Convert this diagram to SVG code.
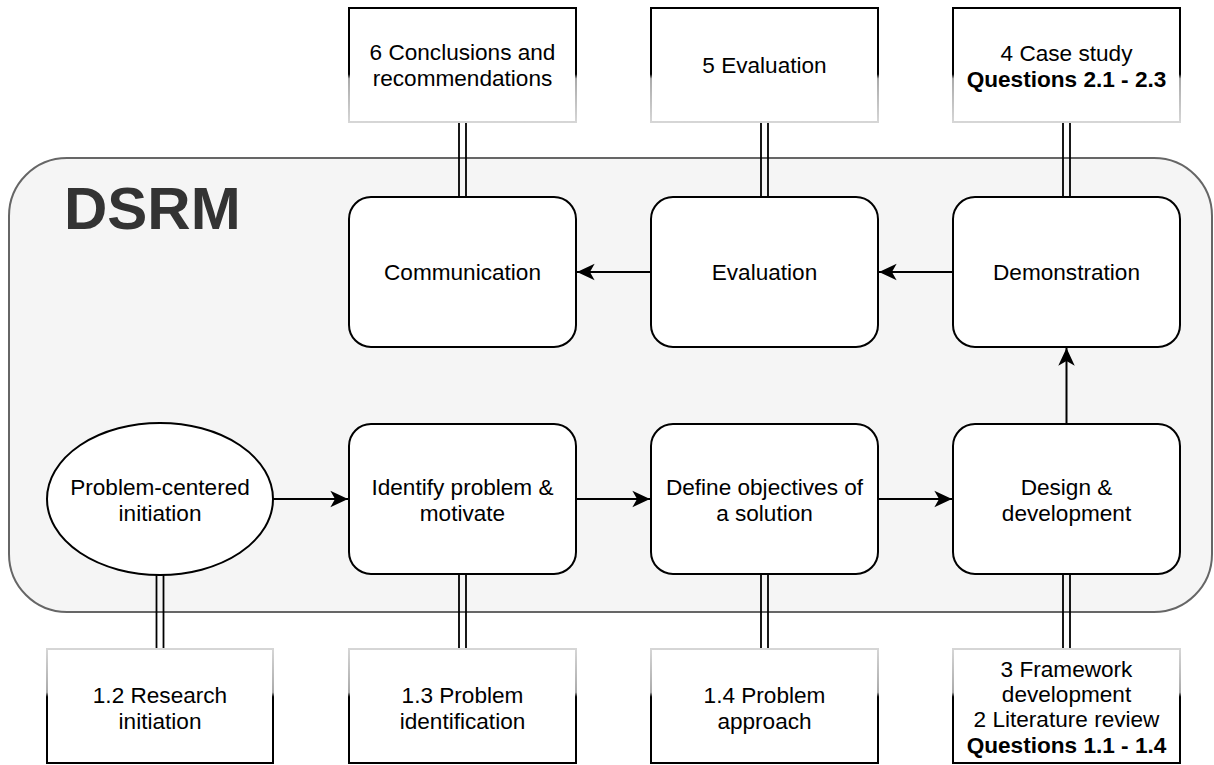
<svg xmlns="http://www.w3.org/2000/svg" width="1214" height="765" viewBox="0 0 1214 765">
  <defs>
    <style>
      .txt { font-family: "Liberation Sans", Arial, sans-serif; font-size: 22.6px; fill: #000; text-anchor: middle; }
      .bold { font-weight: bold; }
      .title { font-family: "Liberation Sans", Arial, sans-serif; font-size: 60px; font-weight: bold; fill: #333; }
      .step { fill: #fff; stroke: #000; stroke-width: 2; }
      .chapTop { fill: #fff; stroke: url(#fadeDown); stroke-width: 2; }
      .chapBot { fill: #fff; stroke: url(#fadeUp); stroke-width: 2; }
      .link { stroke: #000; stroke-width: 1.8; fill: none; }
      .flow { stroke: #000; stroke-width: 2; fill: none; marker-end: url(#arrow); }
    </style>
    <!-- chapter boxes: border fades out toward the DSRM panel -->
    <linearGradient id="fadeDown" x1="0" y1="0" x2="0" y2="1">
      <stop offset="0" stop-color="#000"/>
      <stop offset="0.58" stop-color="#000"/>
      <stop offset="0.62" stop-color="#aaa"/>
      <stop offset="1" stop-color="#d6d6d6"/>
    </linearGradient>
    <linearGradient id="fadeUp" x1="0" y1="0" x2="0" y2="1">
      <stop offset="0" stop-color="#d6d6d6"/>
      <stop offset="0.38" stop-color="#aaa"/>
      <stop offset="0.42" stop-color="#000"/>
      <stop offset="1" stop-color="#000"/>
    </linearGradient>
    <marker id="arrow" markerUnits="userSpaceOnUse" markerWidth="20" markerHeight="20" viewBox="-16 -8 17 16" refX="0" refY="0" orient="auto">
      <path d="M0,0 L-15,-7 L-11,0 L-15,7 Z" fill="#000"/>
    </marker>
  </defs>

  <!-- DSRM panel -->
  <g id="dsrm">
    <rect x="9" y="158" width="1203" height="454" rx="58" ry="58" fill="#f5f5f5" stroke="#666" stroke-width="2"/>
    <text class="title" x="64" y="229">DSRM</text>
  </g>

  <!-- connectors -->
  <g id="connectors">
    <!-- double links between chapters and process steps -->
    <line class="link" x1="459" y1="122" x2="459" y2="197"/>
    <line class="link" x1="466" y1="122" x2="466" y2="197"/>
    <line class="link" x1="761" y1="122" x2="761" y2="197"/>
    <line class="link" x1="768" y1="122" x2="768" y2="197"/>
    <line class="link" x1="1063" y1="122" x2="1063" y2="197"/>
    <line class="link" x1="1070" y1="122" x2="1070" y2="197"/>

    <line class="link" x1="156.5" y1="575" x2="156.5" y2="649"/>
    <line class="link" x1="163.5" y1="575" x2="163.5" y2="649"/>
    <line class="link" x1="459" y1="574" x2="459" y2="649"/>
    <line class="link" x1="466" y1="574" x2="466" y2="649"/>
    <line class="link" x1="761" y1="574" x2="761" y2="649"/>
    <line class="link" x1="768" y1="574" x2="768" y2="649"/>
    <line class="link" x1="1063" y1="574" x2="1063" y2="649"/>
    <line class="link" x1="1070" y1="574" x2="1070" y2="649"/>

    <!-- process flow -->
    <line class="flow" x1="273" y1="499" x2="348" y2="499"/>
    <line class="flow" x1="576" y1="499" x2="650" y2="499"/>
    <line class="flow" x1="878" y1="499" x2="952" y2="499"/>
    <line class="flow" x1="1066.5" y1="424" x2="1066.5" y2="348"/>
    <line class="flow" x1="953" y1="272" x2="879" y2="272"/>
    <line class="flow" x1="651" y1="272" x2="577" y2="272"/>
  </g>

  <!-- chapters above the panel -->
  <g id="ch6">
    <rect class="chapTop" x="349" y="8" width="227" height="114"/>
    <text class="txt" x="462.5" y="60">6 Conclusions and</text>
    <text class="txt" x="462.5" y="86">recommendations</text>
  </g>
  <g id="ch5">
    <rect class="chapTop" x="651" y="8" width="227" height="114"/>
    <text class="txt" x="764.5" y="73">5 Evaluation</text>
  </g>
  <g id="ch4">
    <rect class="chapTop" x="953" y="8" width="227" height="114"/>
    <text class="txt" x="1066.5" y="61">4 Case study</text>
    <text class="txt bold" x="1066.5" y="87">Questions 2.1 - 2.3</text>
  </g>

  <!-- process steps -->
  <g id="communication">
    <rect class="step" x="349" y="197" width="227" height="150" rx="22" ry="22"/>
    <text class="txt" x="462.5" y="280">Communication</text>
  </g>
  <g id="evaluation">
    <rect class="step" x="651" y="197" width="227" height="150" rx="22" ry="22"/>
    <text class="txt" x="764.5" y="280">Evaluation</text>
  </g>
  <g id="demonstration">
    <rect class="step" x="953" y="197" width="227" height="150" rx="22" ry="22"/>
    <text class="txt" x="1066.5" y="280">Demonstration</text>
  </g>
  <g id="initiation">
    <ellipse class="step" cx="160" cy="499" rx="113" ry="76"/>
    <text class="txt" x="160" y="495">Problem-centered</text>
    <text class="txt" x="160" y="521">initiation</text>
  </g>
  <g id="identify">
    <rect class="step" x="349" y="424" width="227" height="150" rx="22" ry="22"/>
    <text class="txt" x="462.5" y="495">Identify problem &amp;</text>
    <text class="txt" x="462.5" y="521">motivate</text>
  </g>
  <g id="objectives">
    <rect class="step" x="651" y="424" width="227" height="150" rx="22" ry="22"/>
    <text class="txt" x="764.5" y="495">Define objectives of</text>
    <text class="txt" x="764.5" y="521">a solution</text>
  </g>
  <g id="design">
    <rect class="step" x="953" y="424" width="227" height="150" rx="22" ry="22"/>
    <text class="txt" x="1066.5" y="495">Design &amp;</text>
    <text class="txt" x="1066.5" y="521">development</text>
  </g>

  <!-- chapters below the panel -->
  <g id="ch1-2">
    <rect class="chapBot" x="47" y="649" width="226" height="114"/>
    <text class="txt" x="160" y="703">1.2 Research</text>
    <text class="txt" x="160" y="729">initiation</text>
  </g>
  <g id="ch1-3">
    <rect class="chapBot" x="349" y="649" width="227" height="114"/>
    <text class="txt" x="462.5" y="703">1.3 Problem</text>
    <text class="txt" x="462.5" y="729">identification</text>
  </g>
  <g id="ch1-4">
    <rect class="chapBot" x="651" y="649" width="227" height="114"/>
    <text class="txt" x="764.5" y="703">1.4 Problem</text>
    <text class="txt" x="764.5" y="729">approach</text>
  </g>
  <g id="ch3-2">
    <rect class="chapBot" x="953" y="649" width="227" height="114"/>
    <text class="txt" x="1066.5" y="677">3 Framework</text>
    <text class="txt" x="1066.5" y="702">development</text>
    <text class="txt" x="1066.5" y="727">2 Literature review</text>
    <text class="txt bold" x="1066.5" y="753">Questions 1.1 - 1.4</text>
  </g>
</svg>
